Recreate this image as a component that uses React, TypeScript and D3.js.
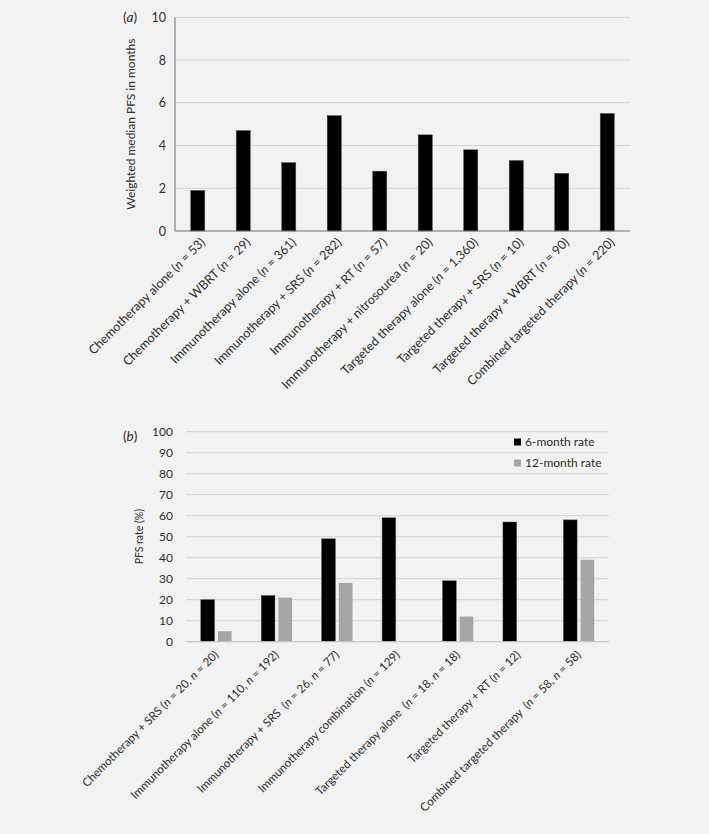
import React from "react";
import * as d3 from "d3";

const catsA = [
  ["Chemotherapy alone", "53"],
  ["Chemotherapy + WBRT", "29"],
  ["Immunotherapy alone", "361"],
  ["Immunotherapy + SRS", "282"],
  ["Immunotherapy + RT", "57"],
  ["Immunotherapy + nitrosourea", "20"],
  ["Targeted therapy alone", "1,360"],
  ["Targeted therapy + SRS", "10"],
  ["Targeted therapy + WBRT", "90"],
  ["Combined targeted therapy", "220"],
];
const valuesA = [1.9, 4.7, 3.2, 5.4, 2.8, 4.5, 3.8, 3.3, 2.7, 5.5];
const ticksA = [0, 2, 4, 6, 8, 10];

const catsB = [
  ["Chemotherapy + SRS ", ["20", "20"]],
  ["Immunotherapy alone ", ["110", "192"]],
  ["Immunotherapy + SRS  ", ["26", "77"]],
  ["Immunotherapy combination ", ["129"]],
  ["Targeted therapy alone  ", ["18", "18"]],
  ["Targeted therapy + RT ", ["12"]],
  ["Combined targeted therapy  ", ["58", "58"]],
] as [string, string[]][];
const sixMonth = [20, 22, 49, 59, 29, 57, 58];
const twelveMonth: (number | null)[] = [5, 21, 28, null, 12, null, 39];
const ticksB = [0, 10, 20, 30, 40, 50, 60, 70, 80, 90, 100];
const seriesB = ["6-month rate", "12-month rate"];
const colorsB = ["#000000", "#a6a6a6"];

const FONT = "Lato, 'Open Sans', sans-serif";
const TXT = "#2e2e2e";

function NLabel({ parts }: { parts: string[] }) {
  const out: React.ReactNode[] = [];
  out.push("(");
  parts.forEach((p, i) => {
    if (i > 0) out.push(", ");
    out.push(<tspan key={"n" + i} fontStyle="italic">n</tspan>);
    out.push(" = " + p);
  });
  out.push(")");
  return <>{out}</>;
}

export default function App() {
  const xA = d3
    .scaleBand<string>()
    .domain(catsA.map((c) => c[0]))
    .range([175, 630])
    .paddingInner(0.69)
    .paddingOuter(0.345);
  const yA = d3.scaleLinear().domain([0, 10]).range([231, 17.3]);

  const xB = d3
    .scaleBand<string>()
    .domain(catsB.map((c) => c[0]))
    .range([186, 609])
    .paddingInner(0.49)
    .paddingOuter(0.245);
  const xB1 = d3
    .scaleBand<string>()
    .domain(seriesB)
    .range([0, xB.bandwidth()])
    .paddingInner(0.2);
  const yB = d3.scaleLinear().domain([0, 100]).range([641.7, 431.7]);

  return (
    <svg
      width={709}
      height={834}
      style={{ position: "absolute", left: 0, top: 0, background: "#f2f2f2" }}
      fontFamily={FONT}
    >
      <rect x={0} y={0} width={709} height={834} fill="#f2f2f2" />

      {/* ===== Chart A ===== */}
      {ticksA.map((t) => (
        <g key={"ga" + t}>
          {t > 0 && (
            <line x1={175} x2={630} y1={yA(t)} y2={yA(t)} stroke="#d4d4d4" strokeWidth={1} />
          )}
          <text x={166} y={yA(t)} dy="0.36em" textAnchor="end" fontSize={12.5} fill={TXT}>
            {t}
          </text>
        </g>
      ))}
      {catsA.map((c, i) => (
        <rect
          key={"ba" + i}
          x={xA(c[0])!}
          y={yA(valuesA[i])}
          width={xA.bandwidth()}
          height={yA(0) - yA(valuesA[i])}
          fill="#000"
          stroke="#555"
          strokeWidth={0.5}
        />
      ))}
      <line x1={175} x2={175} y1={yA(10)} y2={yA(0)} stroke="#707070" strokeWidth={1} />
      <line x1={175} x2={630} y1={yA(0)} y2={yA(0)} stroke="#707070" strokeWidth={1} />
      <text x={123} y={21.5} fontSize={13.5} fill={TXT}>
        (<tspan fontStyle="italic">a</tspan>)
      </text>
      <text
        transform={`translate(135,${(yA(0) + yA(10)) / 2}) rotate(-90)`}
        textAnchor="middle"
        fontSize={12}
        fill={TXT}
      >
        Weighted median PFS in months
      </text>
      {catsA.map((c, i) => {
        const cx = xA(c[0])! + xA.bandwidth() / 2;
        return (
          <text
            key={"la" + i}
            transform={`translate(${cx + 5},${yA(0) + 9}) rotate(-45)`}
            textAnchor="end"
            dy="0.35em"
            fontSize={12.5}
            fill={TXT}
          >
            {c[0]} <NLabel parts={[c[1]]} />
          </text>
        );
      })}

      {/* ===== Chart B ===== */}
      {ticksB.map((t) => (
        <g key={"gb" + t}>
          <line x1={186} x2={609} y1={yB(t)} y2={yB(t)} stroke="#d4d4d4" strokeWidth={1} />
          <text x={173} y={yB(t)} dy="0.36em" textAnchor="end" fontSize={12} fill={TXT}>
            {t}
          </text>
        </g>
      ))}
      {catsB.map((c, i) => {
        const gx = xB(c[0])!;
        const vals = [sixMonth[i], twelveMonth[i]];
        return (
          <g key={"bb" + i}>
            {vals.map((v, j) =>
              v == null ? null : (
                <rect
                  key={j}
                  x={gx + xB1(seriesB[j])!}
                  y={yB(v)}
                  width={xB1.bandwidth()}
                  height={yB(0) - yB(v)}
                  fill={colorsB[j]}
                  stroke={j === 0 ? "#555" : "none"}
                  strokeWidth={0.5}
                />
              )
            )}
          </g>
        );
      })}
      <line x1={186} x2={609} y1={yB(0)} y2={yB(0)} stroke="#c8c8c8" strokeWidth={1} />
      <text x={123} y={441} fontSize={13.5} fill={TXT}>
        (<tspan fontStyle="italic">b</tspan>)
      </text>
      <text
        transform={`translate(143,${(yB(0) + yB(100)) / 2}) rotate(-90)`}
        textAnchor="middle"
        fontSize={10.5}
        fill={TXT}
      >
        PFS rate (%)
      </text>
      {catsB.map((c, i) => {
        const cx = xB(c[0])! + xB.bandwidth() / 2;
        return (
          <text
            key={"lb" + i}
            transform={`translate(${cx + 0},${yB(0) + 11}) rotate(-45)`}
            textAnchor="end"
            dy="0.35em"
            fontSize={11.6}
            fill={TXT}
            style={{ whiteSpace: "pre" }}
          >
            {c[0]}
            <NLabel parts={c[1]} />
          </text>
        );
      })}
      {seriesB.map((s, j) => (
        <g key={"lg" + j} transform={`translate(514,${442 + j * 21})`}>
          <rect x={0} y={-3.5} width={7} height={7} fill={colorsB[j]} />
          <text x={11} y={0} dy="0.36em" fontSize={12} fill={TXT}>
            {s}
          </text>
        </g>
      ))}
    </svg>
  );
}
